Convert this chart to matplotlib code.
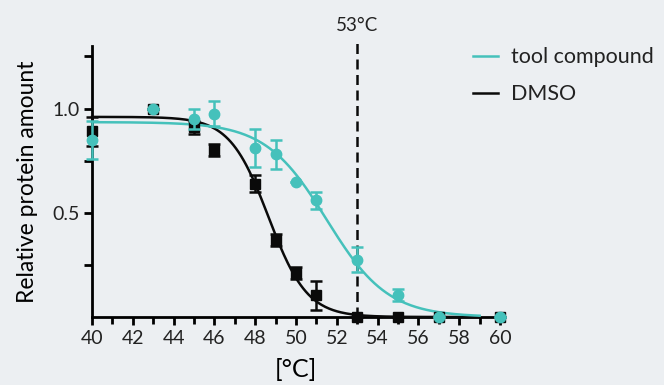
import matplotlib.pyplot as plt
import numpy as np
from matplotlib.lines import Line2D
from matplotlib.ticker import MultipleLocator

plt.rcParams['font.family'] = ['Lato', 'DejaVu Sans']
plt.rcParams['text.color'] = '#222222'
plt.rcParams['xtick.labelcolor'] = '#222222'
plt.rcParams['ytick.labelcolor'] = '#222222'

bg = '#eceff2'
teal = '#45c1bb'
black = '#0a0a0a'

temps = [40, 43, 45, 46, 48, 49, 50, 51, 53, 55, 57, 60]

dmso = [0.89, 1.0, 0.91, 0.80, 0.64, 0.37, 0.21, 0.105, 0.0, 0.0, 0.0, 0.0]
dmso_err = [0.07, 0.0, 0.03, 0.03, 0.04, 0.03, 0.03, 0.07, 0.0, 0.0, 0.0, 0.0]

tool = [0.85, 1.0, 0.95, 0.975, 0.81, 0.78, 0.65, 0.56, 0.275, 0.105, 0.0, 0.0]
tool_err = [0.09, 0.0, 0.05, 0.06, 0.09, 0.07, 0.0, 0.04, 0.06, 0.03, 0.0, 0.0]

# Boltzmann fit parameters: top, Tm, slope
dmso_fit = (0.96, 48.65, 0.95)
tool_fit = (0.935, 51.5, 1.5)

mark_temp = 53


def boltzmann(t, top, tm, s):
    return top / (1 + np.exp((t - tm) / s))


fig = plt.figure(figsize=(6.64, 3.85), dpi=100, facecolor=bg)
ax = fig.add_axes([0.1386, 0.1766, 0.6144, 0.7039])
ax.set_facecolor(bg)

t = np.linspace(40, 59, 300)
ax.plot(t, boltzmann(t, *dmso_fit), color=black, lw=1.8, clip_on=False, zorder=3)
ax.plot(t, boltzmann(t, *tool_fit), color=teal, lw=1.8, clip_on=False, zorder=3)

ax.errorbar(temps, dmso, yerr=dmso_err, fmt='s', color=black, ms=7,
            capsize=4, elinewidth=1.8, capthick=1.8, clip_on=False, zorder=4)
ax.errorbar(temps, tool, yerr=tool_err, fmt='o', color=teal, ms=7.5,
            capsize=4, elinewidth=1.8, capthick=1.8, clip_on=False, zorder=5)

ax.plot([mark_temp, mark_temp], [0, 1.34], color=black, lw=1.8,
        ls=(0, (4, 2.2)), clip_on=False, zorder=2)
ax.text(mark_temp, 1.40, '53°C', ha='center', va='center', fontsize=13.5)

ax.set_xlim(40, 60)
ax.set_ylim(0, 1.3)
ax.xaxis.set_major_locator(MultipleLocator(2))
ax.xaxis.set_minor_locator(MultipleLocator(1))
ax.set_yticks([0.25, 0.5, 0.75, 1.0, 1.25])
ax.set_yticklabels(['', '0.5', '', '1.0', ''])

for side in ['top', 'right']:
    ax.spines[side].set_visible(False)
for side in ['left', 'bottom']:
    ax.spines[side].set_linewidth(2)
ax.tick_params(which='major', length=6, width=2, labelsize=14, pad=3)
ax.tick_params(axis='x', which='minor', length=5, width=2)

ax.set_xlabel('[°C]', fontsize=18, labelpad=8)
ax.set_ylabel('Relative protein amount', fontsize=16.5, labelpad=10)

handles = [Line2D([], [], color=teal, lw=1.8), Line2D([], [], color=black, lw=1.8)]
fig.legend(handles, ['tool compound', 'DMSO'], loc='upper left',
           bbox_to_anchor=(0.683, 0.928), frameon=False, fontsize=15.5,
           handlelength=1.15, labelspacing=0.8, handletextpad=0.6)

fig.savefig('out.png', dpi=100, facecolor=bg)
